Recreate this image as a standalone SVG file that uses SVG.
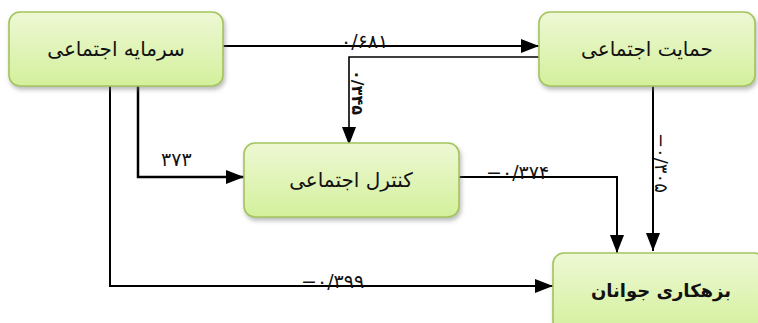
<svg xmlns="http://www.w3.org/2000/svg" width="758" height="323" viewBox="0 0 758 323">
<style>
.box{fill:url(#g);stroke:#a3c45c;stroke-width:1.6;filter:url(#sh)}
.nt{font-family:"DejaVu Sans",sans-serif;font-size:20px;fill:#111;text-anchor:middle;direction:rtl}
.bt{font-weight:bold;font-size:18px}
.ln{fill:none;stroke:#000;stroke-width:2}
.lb{font-family:"DejaVu Sans",sans-serif;font-size:19px;fill:#111;direction:ltr;unicode-bidi:bidi-override}
</style>
<defs>
<linearGradient id="g" x1="0" y1="0" x2="0" y2="1">
<stop offset="0" stop-color="#eef8d4"/>
<stop offset="1" stop-color="#d3f09c"/>
</linearGradient>
<filter id="sh" x="-10%" y="-10%" width="125%" height="135%">
<feDropShadow dx="1.5" dy="3" stdDeviation="2" flood-color="#777" flood-opacity="0.5"/>
</filter>
<marker id="ar" markerUnits="userSpaceOnUse" markerWidth="18" markerHeight="14" refX="18" refY="7" orient="auto">
<path d="M0,0 L18,7 L0,14 z" fill="#000"/>
</marker>
</defs>
<rect width="758" height="323" fill="#fff"/>
<g id="connectors">
<path class="ln" d="M223,46 H539" marker-end="url(#ar)"/>
<path class="ln" d="M539,57 H349 V145" style="stroke-width:1.6" marker-end="url(#ar)"/>
<path class="ln" d="M138,86 V177 H244" style="stroke-width:2.5" marker-end="url(#ar)"/>
<path class="ln" d="M110,86 V286 H553" marker-end="url(#ar)"/>
<path class="ln" d="M459,177 H617 V253" marker-end="url(#ar)"/>
<path class="ln" d="M653,86 V251" marker-end="url(#ar)"/>
<text class="lb" x="341" y="48">۰/۶۸۱</text>
<text class="lb" x="161" y="166">۳۷۳</text>
<text class="lb" x="301" y="288">−۰/۳۹۹</text>
<text class="lb" x="486" y="179">−۰/۳۷۴</text>
<text class="lb" style="font-size:16px;font-weight:bold" transform="translate(352,70) rotate(90)">۰/۳۴۵</text>
<text class="lb" style="font-size:18px" transform="translate(655,133) rotate(90)">−۰/۳۰۵</text>
</g>
<g id="n1">
<rect class="box" x="9" y="12" width="214" height="74" rx="11"/>
<text class="nt" x="116" y="56">سرمایه اجتماعی</text>
</g>
<g id="n2">
<rect class="box" x="539" y="12" width="216" height="74" rx="11"/>
<text class="nt" x="647" y="56">حمایت اجتماعی</text>
</g>
<g id="n3">
<rect class="box" x="244" y="143" width="215" height="74" rx="11"/>
<text class="nt" x="351" y="187">کنترل اجتماعی</text>
</g>
<g id="n4">
<rect class="box" x="553" y="253" width="212" height="80" rx="11"/>
<text class="nt bt" x="661" y="297">بزهکاری جوانان</text>
</g>
</svg>
